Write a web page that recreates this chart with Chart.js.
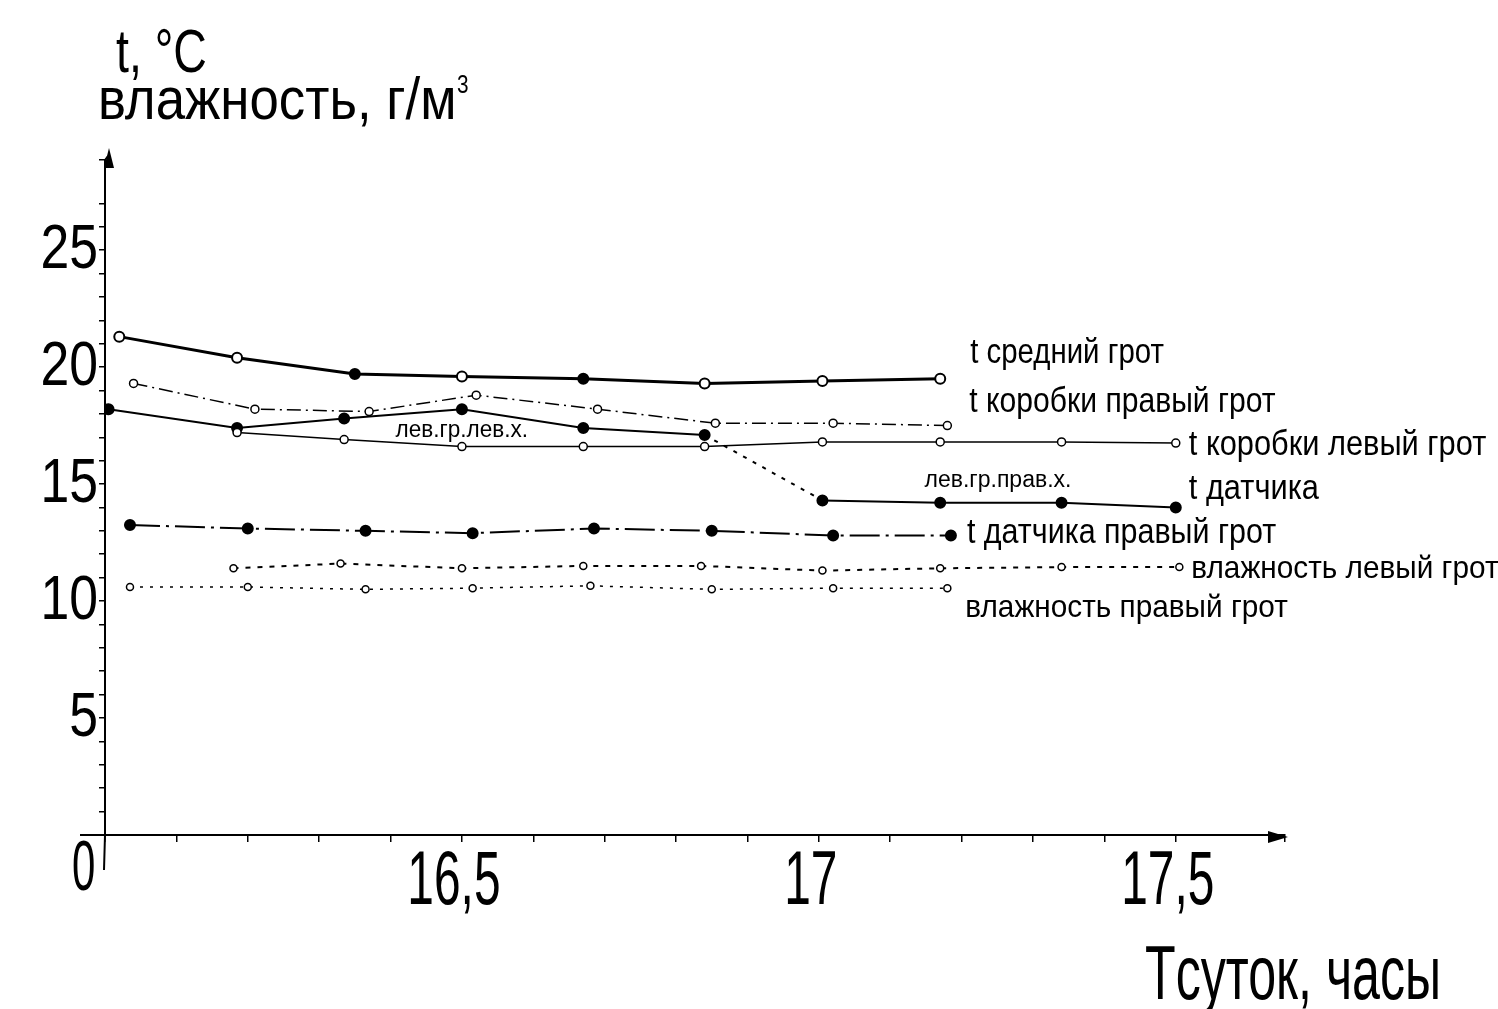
<!DOCTYPE html>
<html>
<head>
<meta charset="utf-8">
<script src="https://cdn.jsdelivr.net/npm/chart.js@4.4.1/dist/chart.umd.min.js"></script>
<style>
  html, body { margin: 0; padding: 0; background: #fff; }
  #wrap { width: 1498px; height: 1009px; }
</style>
</head>
<body>
<div id="wrap"><canvas id="chart" width="1498" height="1009"></canvas></div>
<script>
// time of day, hours
var timeSredny = [16.02, 16.185, 16.35, 16.50, 16.67, 16.84, 17.005, 17.17];
var tSredny = [21.3, 20.4, 19.7, 19.6, 19.5, 19.3, 19.4, 19.5];

var timeKorPrav = [16.04, 16.21, 16.37, 16.52, 16.69, 16.855, 17.02, 17.18];
var tKorPrav = [19.3, 18.2, 18.1, 18.8, 18.2, 17.6, 17.6, 17.5];

var timeKorLev = [16.185, 16.335, 16.50, 16.67, 16.84, 17.005, 17.17, 17.34, 17.50];
var tKorLev = [17.2, 16.9, 16.6, 16.6, 16.6, 16.8, 16.8, 16.8, 16.75];

var timeDatchik = [16.005, 16.185, 16.335, 16.50, 16.67, 16.84, 17.005, 17.17, 17.34, 17.50];
var tDatchik = [18.2, 17.4, 17.8, 18.2, 17.4, 17.1, 14.3, 14.2, 14.2, 14.0];

var timeDatPrav = [16.035, 16.20, 16.365, 16.515, 16.685, 16.85, 17.02, 17.185];
var tDatPrav = [13.25, 13.1, 13.0, 12.9, 13.1, 13.0, 12.8, 12.8];

var timeVlLev = [16.18, 16.33, 16.50, 16.67, 16.835, 17.005, 17.17, 17.34, 17.505];
var vlLev = [11.4, 11.6, 11.4, 11.5, 11.5, 11.3, 11.4, 11.45, 11.45];

var timeVlPrav = [16.035, 16.20, 16.365, 16.515, 16.68, 16.85, 17.02, 17.18];
var vlPrav = [10.6, 10.6, 10.5, 10.55, 10.65, 10.5, 10.55, 10.55];

var yTickStep = 5;
var xLabelStep = 0.5;

var FONT = '"Liberation Sans", Arial, sans-serif';

function pts(times, vals) {
    return times.map(function (t, i) { return { x: t, y: vals[i] }; });
}

// text squeezed sideways, the original uses a narrow face
function narrow(ctx, text, x, y, size, sx) {
    ctx.save();
    ctx.translate(x, y);
    ctx.scale(sx, 1);
    ctx.font = size + 'px ' + FONT;
    ctx.fillText(text, 0, 0);
    ctx.restore();
}

// labels beside the line ends: [dataset index, dx, dy, text, size, squeeze]
var endLabels = [
    [0, 30, -25, 't средний грот', 35, 0.84],
    [1, 22, -23, 't коробки правый грот', 35, 0.86],
    [2, 13, 2, 't коробки левый грот', 35, 0.88],
    [3, 13, -18, 't датчика', 35, 0.88],
    [4, 16, -2, 't датчика правый грот', 35, 0.87],
    [5, 12, 2, 'влажность левый грот', 32, 0.93],
    [6, 18, 20, 'влажность правый грот', 32, 0.93]
];

var textPlugin = {
    id: 'texts',
    afterDraw: function (chart) {
        var ctx = chart.ctx;
        var xs = chart.scales.x, ys = chart.scales.y;
        var x0 = xs.getPixelForValue(16), y0 = ys.getPixelForValue(0);
        var yTop = chart.chartArea.top, xEnd = chart.chartArea.right;
        ctx.save();
        ctx.strokeStyle = '#000';
        ctx.fillStyle = '#000';
        ctx.lineWidth = 2;
        // axis extensions
        ctx.beginPath();
        ctx.moveTo(80, y0); ctx.lineTo(x0, y0);
        ctx.moveTo(x0, y0); ctx.lineTo(x0 - 1, y0 + 35);
        ctx.moveTo(x0, yTop); ctx.lineTo(x0 + 3, yTop - 4);
        ctx.stroke();
        // arrows
        ctx.beginPath();
        ctx.moveTo(x0 + 4, yTop - 12); ctx.lineTo(x0 - 1, yTop + 8); ctx.lineTo(x0 + 9, yTop + 8);
        ctx.closePath(); ctx.fill();
        ctx.beginPath();
        ctx.moveTo(xEnd + 3, y0 + 2); ctx.lineTo(xEnd - 17, y0 - 4); ctx.lineTo(xEnd - 17, y0 + 8);
        ctx.closePath(); ctx.fill();

        // tick labels from the scales, narrow face
        ctx.textBaseline = 'alphabetic';
        ctx.textAlign = 'center';
        xs.ticks.forEach(function (t) {
            if (!t.label) return;
            narrow(ctx, t.label, xs.getPixelForValue(t.value) - 8, 904, 76, 0.63);
        });
        ctx.textAlign = 'right';
        ys.ticks.forEach(function (t) {
            if (!t.label) return;
            narrow(ctx, t.label, 98, ys.getPixelForValue(t.value) + 18, 63, 0.82);
        });
        ctx.textAlign = 'left';
        narrow(ctx, '0', 72, 890, 70, 0.6);

        ctx.textBaseline = 'middle';
        endLabels.forEach(function (l) {
            var meta = chart.getDatasetMeta(l[0]);
            var last = meta.data[meta.data.length - 1];
            narrow(ctx, l[3], last.x + l[1], last.y + l[2], l[4], l[5]);
        });
        narrow(ctx, 'лев.гр.лев.х.', xs.getPixelForValue(16.407), ys.getPixelForValue(17.3), 23, 0.98);
        narrow(ctx, 'лев.гр.прав.х.', xs.getPixelForValue(17.148), ys.getPixelForValue(15.15), 23, 1.0);

        // axis titles
        ctx.textBaseline = 'alphabetic';
        narrow(ctx, 't, °C', 116, 72, 62, 0.75);
        narrow(ctx, 'влажность, г/м', 98, 119, 60, 0.88);
        narrow(ctx, '3', 457, 93, 26, 0.8);
        narrow(ctx, 'Tсуток, часы', 1145, 999, 76, 0.66);
        ctx.restore();
    }
};

var config = {
    type: 'line',
    data: {
        datasets: [{
            label: 't средний грот',
            data: pts(timeSredny, tSredny),
            borderColor: '#000',
            borderWidth: 3,
            pointRadius: 5,
            pointBorderWidth: 2,
            pointBorderColor: '#000',
            pointBackgroundColor: ['#fff', '#fff', '#000', '#fff', '#000', '#fff', '#fff', '#fff']
        }, {
            label: 't коробки правый грот',
            data: pts(timeKorPrav, tKorPrav),
            borderColor: '#000',
            borderWidth: 1.5,
            borderDash: [14, 5, 2, 5],
            pointRadius: 4,
            pointBorderWidth: 1.5,
            pointBorderColor: '#000',
            pointBackgroundColor: '#fff'
        }, {
            label: 't коробки левый грот',
            data: pts(timeKorLev, tKorLev),
            borderColor: '#000',
            borderWidth: 1.5,
            pointRadius: 4,
            pointBorderWidth: 1.5,
            pointBorderColor: '#000',
            pointBackgroundColor: '#fff'
        }, {
            label: 't датчика',
            data: pts(timeDatchik, tDatchik),
            borderColor: '#000',
            borderWidth: 2,
            pointRadius: 5,
            pointBorderColor: '#000',
            pointBackgroundColor: '#000',
            segment: {
                borderDash: function (ctx) { return ctx.p0DataIndex === 5 ? [4, 7] : undefined; }
            }
        }, {
            label: 't датчика правый грот',
            data: pts(timeDatPrav, tDatPrav),
            borderColor: '#000',
            borderWidth: 2,
            borderDash: [30, 6, 3, 6],
            pointRadius: 5,
            pointBorderColor: '#000',
            pointBackgroundColor: '#000'
        }, {
            label: 'влажность левый грот',
            data: pts(timeVlLev, vlLev),
            borderColor: '#000',
            borderWidth: 2,
            borderDash: [5, 7],
            pointRadius: 3.5,
            pointBorderWidth: 1.5,
            pointBorderColor: '#000',
            pointBackgroundColor: '#fff'
        }, {
            label: 'влажность правый грот',
            data: pts(timeVlPrav, vlPrav),
            borderColor: '#000',
            borderWidth: 1.5,
            borderDash: [3, 7],
            pointRadius: 3.5,
            pointBorderWidth: 1.5,
            pointBorderColor: '#000',
            pointBackgroundColor: '#fff'
        }]
    },
    options: {
        responsive: false,
        animation: false,
        layout: { padding: { left: 0, top: 160, right: 213, bottom: 0 } },
        plugins: { legend: { display: false }, tooltip: { enabled: false } },
        scales: {
            x: {
                type: 'linear',
                min: 16,
                max: 17.653,
                afterFit: function (s) { s.height = 174; },
                border: { display: true, color: '#000', width: 2 },
                grid: { drawOnChartArea: false, drawTicks: true, tickLength: 7, color: '#000', lineWidth: 1.5 },
                ticks: {
                    stepSize: 0.1,
                    autoSkip: false,
                    maxRotation: 0,
                    color: 'rgba(0,0,0,0)',
                    font: { family: FONT, size: 40 },
                    callback: function (v) {
                        var k = v / xLabelStep;
                        if (v > 16.01 && Math.abs(k - Math.round(k)) < 1e-6) {
                            return String(+v.toFixed(1)).replace('.', ',');
                        }
                        return '';
                    }
                }
            },
            y: {
                min: 0,
                max: 28.85,
                afterFit: function (s) { s.width = 105; },
                border: { display: true, color: '#000', width: 2 },
                grid: { drawOnChartArea: false, drawTicks: true, tickLength: 6, color: '#000', lineWidth: 1.5 },
                ticks: {
                    stepSize: 1,
                    autoSkip: false,
                    color: 'rgba(0,0,0,0)',
                    font: { family: FONT, size: 40 },
                    callback: function (v) {
                        return (v > 0 && v % yTickStep === 0) ? String(v) : '';
                    }
                }
            }
        }
    },
    plugins: [textPlugin]
};

var chart = new Chart(document.getElementById('chart').getContext('2d'), config);
</script>
</body>
</html>
